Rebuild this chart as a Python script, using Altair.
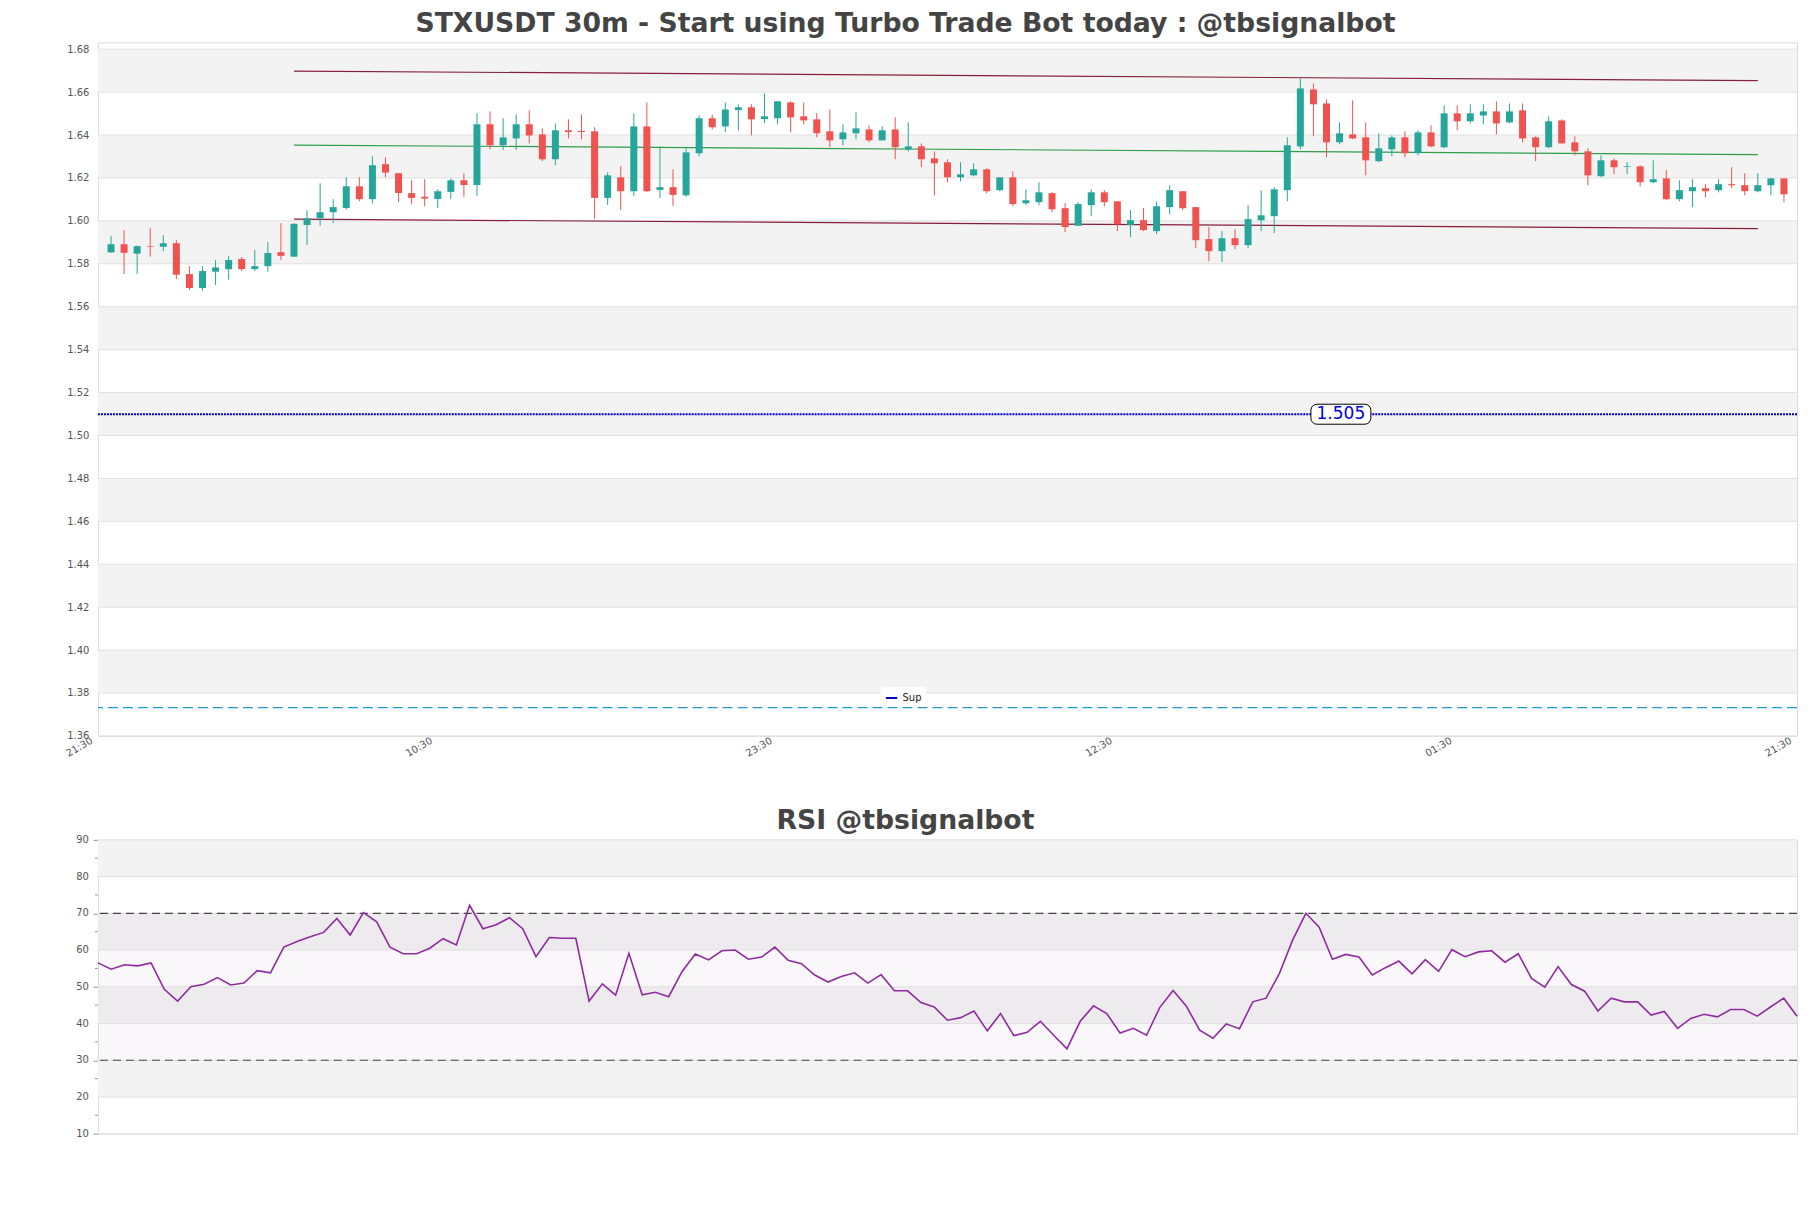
import json
import altair as alt
import pandas as pd

TITLE = "STXUSDT 30m - Start using Turbo Trade Bot today : @tbsignalbot"
RSI_TITLE = "RSI @tbsignalbot"

opens = [
    1.5853, 1.5891, 1.5847, 1.5882, 1.5879, 1.5896, 1.5752, 1.5687, 1.5763, 1.5775,
    1.5822, 1.5775, 1.5789, 1.5854, 1.5833, 1.5981, 1.6012, 1.6040, 1.6060, 1.6161,
    1.6101, 1.6264, 1.6222, 1.6129, 1.6112, 1.6102, 1.6135, 1.6189, 1.6167, 1.6450,
    1.6352, 1.6384, 1.6450, 1.6403, 1.6287, 1.6422, 1.6419, 1.6417, 1.6107, 1.6203,
    1.6138, 1.6440, 1.6144, 1.6157, 1.6119, 1.6315, 1.6478, 1.6440, 1.6516, 1.6529,
    1.6474, 1.6478, 1.6552, 1.6487, 1.6473, 1.6417, 1.6380, 1.6408, 1.6426, 1.6375,
    1.6426, 1.6333, 1.6347, 1.6291, 1.6273, 1.6203, 1.6212, 1.6240, 1.6143, 1.6203,
    1.6082, 1.6087, 1.6129, 1.6059, 1.5977, 1.6073, 1.6133, 1.6091, 1.5981, 1.6003,
    1.5952, 1.6064, 1.6138, 1.6064, 1.5915, 1.5859, 1.5919, 1.5887, 1.6003, 1.6022,
    1.6143, 1.6347, 1.6612, 1.6547, 1.6366, 1.6403, 1.6389, 1.6278, 1.6333, 1.6389,
    1.6315, 1.6412, 1.6343, 1.6501, 1.6464, 1.6491, 1.6510, 1.6459, 1.6515, 1.6389,
    1.6343, 1.6468, 1.6366, 1.6324, 1.6208, 1.6282, 1.6251, 1.6254, 1.6180, 1.6198,
    1.6101, 1.6138, 1.6152, 1.6143, 1.6171, 1.6166, 1.6138, 1.6166, 1.6198,
]
closes = [
    1.5891, 1.5851, 1.5882, 1.5879, 1.5896, 1.5749, 1.5687, 1.5766, 1.5783, 1.5817,
    1.5775, 1.5789, 1.5850, 1.5837, 1.5986, 1.6012, 1.6040, 1.6064, 1.6161, 1.6101,
    1.6259, 1.6225, 1.6130, 1.6107, 1.6104, 1.6138, 1.6189, 1.6167, 1.6450, 1.6352,
    1.6389, 1.6450, 1.6398, 1.6287, 1.6422, 1.6414, 1.6414, 1.6107, 1.6212, 1.6138,
    1.6440, 1.6138, 1.6157, 1.6121, 1.6319, 1.6478, 1.6436, 1.6519, 1.6529, 1.6473,
    1.6487, 1.6557, 1.6482, 1.6468, 1.6408, 1.6375, 1.6412, 1.6431, 1.6375, 1.6422,
    1.6343, 1.6347, 1.6287, 1.6268, 1.6203, 1.6217, 1.6240, 1.6138, 1.6203, 1.6078,
    1.6096, 1.6133, 1.6054, 1.5971, 1.6078, 1.6133, 1.6087, 1.5984, 1.6003, 1.5957,
    1.6068, 1.6143, 1.6059, 1.5910, 1.5859, 1.5919, 1.5887, 1.6008, 1.6026, 1.6147,
    1.6352, 1.6617, 1.6543, 1.6366, 1.6408, 1.6384, 1.6282, 1.6338, 1.6389, 1.6315,
    1.6412, 1.6347, 1.6501, 1.6464, 1.6501, 1.6510, 1.6454, 1.6510, 1.6384, 1.6343,
    1.6464, 1.6361, 1.6324, 1.6212, 1.6282, 1.6250, 1.6254, 1.6180, 1.6194, 1.6101,
    1.6143, 1.6157, 1.6138, 1.6171, 1.6166, 1.6138, 1.6166, 1.6198, 1.6124,
]
highs = [
    1.5930, 1.5957, 1.5885, 1.5966, 1.5933, 1.5910, 1.5789, 1.5789, 1.5817, 1.5836,
    1.5831, 1.5864, 1.5901, 1.5989, 1.5989, 1.6050, 1.6175, 1.6101, 1.6203, 1.6203,
    1.6301, 1.6296, 1.6222, 1.6189, 1.6194, 1.6147, 1.6198, 1.6222, 1.6501, 1.6510,
    1.6478, 1.6496, 1.6515, 1.6431, 1.6454, 1.6473, 1.6496, 1.6436, 1.6226, 1.6254,
    1.6501, 1.6552, 1.6347, 1.6240, 1.6338, 1.6491, 1.6495, 1.6552, 1.6543, 1.6543,
    1.6594, 1.6557, 1.6557, 1.6552, 1.6501, 1.6519, 1.6450, 1.6505, 1.6445, 1.6440,
    1.6482, 1.6459, 1.6361, 1.6324, 1.6287, 1.6273, 1.6268, 1.6245, 1.6203, 1.6231,
    1.6147, 1.6180, 1.6133, 1.6082, 1.6087, 1.6147, 1.6143, 1.6091, 1.6050, 1.6059,
    1.6091, 1.6166, 1.6138, 1.6064, 1.5971, 1.5952, 1.5961, 1.6073, 1.6143, 1.6157,
    1.6389, 1.6664, 1.6640, 1.6566, 1.6459, 1.6561, 1.6459, 1.6408, 1.6398, 1.6417,
    1.6422, 1.6445, 1.6538, 1.6538, 1.6543, 1.6543, 1.6557, 1.6547, 1.6547, 1.6394,
    1.6487, 1.6473, 1.6394, 1.6338, 1.6305, 1.6291, 1.6273, 1.6259, 1.6282, 1.6236,
    1.6189, 1.6194, 1.6171, 1.6194, 1.6250, 1.6222, 1.6222, 1.6198, 1.6198,
]
lows = [
    1.5850, 1.5752, 1.5752, 1.5833, 1.5859, 1.5729, 1.5678, 1.5674, 1.5701, 1.5726,
    1.5766, 1.5766, 1.5763, 1.5817, 1.5833, 1.5888, 1.5977, 1.5989, 1.6051, 1.6091,
    1.6082, 1.6203, 1.6087, 1.6078, 1.6068, 1.6060, 1.6102, 1.6112, 1.6116, 1.6333,
    1.6330, 1.6330, 1.6361, 1.6278, 1.6259, 1.6384, 1.6380, 1.6008, 1.6074, 1.6051,
    1.6116, 1.6135, 1.6107, 1.6070, 1.6112, 1.6301, 1.6426, 1.6414, 1.6422, 1.6398,
    1.6456, 1.6450, 1.6412, 1.6450, 1.6389, 1.6343, 1.6352, 1.6380, 1.6366, 1.6375,
    1.6287, 1.6324, 1.6250, 1.6119, 1.6180, 1.6184, 1.6208, 1.6129, 1.6138, 1.6068,
    1.6073, 1.6073, 1.6040, 1.5947, 1.5977, 1.6022, 1.6068, 1.5952, 1.5924, 1.5952,
    1.5938, 1.6031, 1.6050, 1.5873, 1.5812, 1.5808, 1.5868, 1.5873, 1.5952, 1.5943,
    1.6091, 1.6333, 1.6394, 1.6296, 1.6357, 1.6380, 1.6212, 1.6273, 1.6301, 1.6296,
    1.6305, 1.6343, 1.6338, 1.6422, 1.6454, 1.6450, 1.6403, 1.6454, 1.6366, 1.6278,
    1.6338, 1.6361, 1.6305, 1.6166, 1.6203, 1.6217, 1.6217, 1.6161, 1.6175, 1.6096,
    1.6091, 1.6064, 1.6110, 1.6133, 1.6152, 1.6119, 1.6133, 1.6119, 1.6087,
]
rsi_values = [
    56.5, 54.8, 56.0, 55.7, 56.5, 49.3, 46.1, 50.0, 50.7, 52.5,
    50.5, 51.0, 54.4, 53.8, 60.8, 62.3, 63.6, 64.8, 68.6, 64.1,
    70.2, 67.7, 60.8, 59.0, 59.0, 60.5, 63.1, 61.4, 72.2, 65.8,
    66.9, 68.8, 65.8, 58.2, 63.4, 63.2, 63.2, 46.1, 50.8, 47.7,
    59.1, 47.8, 48.5, 47.3, 54.1, 58.9, 57.3, 59.8, 60.0, 57.5,
    58.1, 60.8, 57.2, 56.3, 53.2, 51.3, 52.8, 53.8, 51.0, 53.3,
    48.9, 48.9, 45.7, 44.5, 40.9, 41.6, 43.4, 38.0, 42.7, 36.7,
    37.6, 40.6, 36.8, 33.1, 40.6, 44.8, 42.7, 37.4, 38.7, 36.8,
    44.4, 49.0, 44.7, 38.2, 36.0, 39.9, 38.6, 45.9, 46.9, 53.6,
    62.7, 70.0, 66.2, 57.5, 58.8, 58.1, 53.2, 55.2, 57.0, 53.5,
    57.4, 54.2, 60.1, 58.2, 59.5, 59.8, 56.7, 59.0, 52.3, 49.9,
    55.5, 50.6, 48.8, 43.4, 46.9, 45.9, 45.9, 42.3, 43.3, 38.7,
    41.4, 42.5, 41.8, 43.8, 43.8, 42.0, 44.5, 46.9, 42.0,
]

x_tick_values = [-1, 25, 51, 77, 103, 129]
x_tick_labels = ["21:30", "10:30", "23:30", "12:30", "01:30", "21:30"]
price_ticks = [1.36, 1.38, 1.40, 1.42, 1.44, 1.46, 1.48, 1.50, 1.52, 1.54,
               1.56, 1.58, 1.60, 1.62, 1.64, 1.66, 1.68]
price_band_lo = [1.38, 1.42, 1.46, 1.50, 1.54, 1.58, 1.62, 1.66]
price_band_hi = [1.40, 1.44, 1.48, 1.52, 1.56, 1.60, 1.64, 1.68]

trend_names = ["res", "res", "mid", "mid", "sup", "sup"]
trend_x = [14, 126, 14, 126, 14, 126]
trend_p = [1.6698, 1.6653, 1.6353, 1.6309, 1.6008, 1.5964]

support_level = 1.5099
support_label = "1.505"
support_label_x = 94.1
support_name = "Sup"
lower_level = 1.3732

rsi_major_ticks = [10, 20, 30, 40, 50, 60, 70, 80, 90]
rsi_minor_ticks = [15, 25, 35, 45, 55, 65, 75, 85]
rsi_band_lo = [20, 40, 60, 80]
rsi_band_hi = [30, 50, 70, 90]
rsi_zone = [30, 70]
rsi_levels = [30, 70]

# ---------------- data frames ----------------
candles = pd.DataFrame({"i": list(range(len(opens))), "open": opens, "high": highs,
                        "low": lows, "close": closes})
candles["dir"] = ["up" if c >= o else "down" for o, c in zip(opens, closes)]
bands_df = pd.DataFrame({"lo": price_band_lo, "hi": price_band_hi})
grid_df = pd.DataFrame({"p": price_ticks})
trend_df = pd.DataFrame({"name": trend_names, "i": trend_x, "p": trend_p})
sup_df = pd.DataFrame({"name": [support_name], "level": [support_level],
                       "lx": [support_label_x], "label": [support_label]})
lower_df = pd.DataFrame({"level": [lower_level]})

rsi_df = pd.DataFrame({"i": list(range(len(rsi_values))), "rsi": rsi_values})
rsi_bands_df = pd.DataFrame({"lo": rsi_band_lo, "hi": rsi_band_hi})
rsi_zone_df = pd.DataFrame({"lo": [rsi_zone[0]], "hi": [rsi_zone[1]]})
rsi_grid_df = pd.DataFrame({"v": rsi_major_ticks})
rsi_minor_df = pd.DataFrame({"v": rsi_minor_ticks})
rsi_levels_df = pd.DataFrame({"v": rsi_levels})

# ---------------- styling ----------------
UP, DOWN = "#26a69a", "#ef5350"
BAND = "#f3f3f3"
GRID = "#e0e0e0"
W = 1700
H_MAIN = 694
H_RSI = 294
FONT = "DejaVu Sans"

x_main_scale = alt.Scale(domain=[-1, 129], nice=False, zero=False, padding=0)
y_main_scale = alt.Scale(domain=[1.36, 1.6832], nice=False, zero=False, padding=0)

label_expr = f"{json.dumps(x_tick_labels)}[indexof({json.dumps(x_tick_values)}, datum.value)]"
x_axis = alt.Axis(values=x_tick_values, labelExpr=label_expr, labelAngle=-30,
                  labelAlign="right", labelBaseline="bottom", labelFontSize=10,
                  labelColor="#555555", ticks=False, domain=False, grid=False,
                  title=None, labelPadding=8, labelOffset=-4, labelFlush=False,
                  labelOverlap=False, labelBound=False)
y_axis = alt.Axis(values=price_ticks, format=".2f", labelFontSize=10,
                  labelColor="#555555", ticks=False, labelPadding=9, domain=False,
                  grid=False, title=None, minExtent=40, maxExtent=40,
                  labelOverlap=False)

bands = alt.Chart(bands_df).mark_rect(color=BAND).encode(
    y=alt.Y("lo:Q", scale=y_main_scale, axis=y_axis), y2="hi:Q")
grid = alt.Chart(grid_df).mark_rule(color=GRID, strokeWidth=1).encode(y="p:Q")
trend = alt.Chart(trend_df).mark_line(strokeWidth=1.2).encode(
    x=alt.X("i:Q", scale=x_main_scale, axis=x_axis),
    y="p:Q",
    detail="name:N",
    stroke=alt.Stroke("name:N", scale=alt.Scale(domain=["res", "mid", "sup"],
                                                range=["#861f3c", "#2e9e49", "#861f3c"]),
                      legend=None))
dir_color = alt.Color("dir:N", scale=alt.Scale(domain=["up", "down"], range=[UP, DOWN]),
                      legend=None)
wicks = alt.Chart(candles).mark_rule(strokeWidth=1).encode(
    x="i:Q", y="low:Q", y2="high:Q", color=dir_color)
bodies = alt.Chart(candles).mark_bar(size=7).encode(
    x="i:Q", y="open:Q", y2="close:Q", color=dir_color)
support = alt.Chart(sup_df).mark_rule(strokeDash=[2, 1], strokeWidth=2).encode(
    y="level:Q",
    color=alt.Color("name:N", scale=alt.Scale(domain=[support_name], range=["#0000c0"]),
                    legend=alt.Legend(orient="none", legendX=783, legendY=645, title=None,
                                      symbolType="stroke", symbolStrokeWidth=2,
                                      symbolSize=130, symbolDash=[1, 0],
                                      labelFontSize=10, labelFont=FONT,
                                      labelColor="#222222",
                                      fillColor="rgba(255,255,255,0.85)",
                                      padding=4, cornerRadius=3)))
label_box = alt.Chart(sup_df).mark_rect(width=60, height=20, cornerRadius=6, fill="white",
                                         stroke="black", strokeWidth=1).encode(
    x="lx:Q", y="level:Q")
label_text = alt.Chart(sup_df).mark_text(fontSize=17, font=FONT, color="#0000dd").encode(
    x="lx:Q", y="level:Q", text="label:N")
lower = alt.Chart(lower_df).mark_rule(strokeDash=[10, 5], color="#2196d9",
                                      strokeWidth=1.3).encode(y="level:Q")

title_common = dict(fontSize=26.7, font=FONT, fontWeight="bold", color="#444444",
                    anchor="middle", frame="group", dx=-42)

main = alt.layer(bands, grid, trend, wicks, bodies, support, lower, label_box,
                 label_text).resolve_scale(color="independent").properties(
    width=W, height=H_MAIN, title=alt.TitleParams(TITLE, offset=5, **title_common))

# ---------------- RSI ----------------
x_rsi_scale = alt.Scale(domain=[0, 128], nice=False, zero=False, padding=0)
y_rsi_scale = alt.Scale(domain=[10, 90], nice=False, zero=False, padding=0)
rsi_axis = alt.Axis(values=rsi_major_ticks, tickSize=5, tickColor="#999999",
                    labels=False, domain=False, grid=False, title=None,
                    minExtent=40, maxExtent=40)

r_bands = alt.Chart(rsi_bands_df).mark_rect(color=BAND).encode(
    y=alt.Y("lo:Q", scale=y_rsi_scale, axis=rsi_axis), y2="hi:Q")
r_zone = alt.Chart(rsi_zone_df).mark_rect(color="#9b59b6", opacity=0.05).encode(
    y="lo:Q", y2="hi:Q")
r_grid = alt.Chart(rsi_grid_df).mark_rule(color=GRID, strokeWidth=1).encode(y="v:Q")
r_labels = alt.Chart(rsi_grid_df).mark_text(align="right", baseline="middle",
                                            fontSize=10, font=FONT,
                                            color="#555555").encode(
    y="v:Q", x=alt.value(-9), text="v:Q")
r_minor = alt.Chart(rsi_minor_df).mark_rule(color="#999999", strokeWidth=1).encode(
    y="v:Q", x=alt.value(-3), x2=alt.value(0))
r_levels = alt.Chart(rsi_levels_df).mark_rule(color="#444444", strokeDash=[8, 5],
                                              strokeWidth=1.2).encode(y="v:Q")
r_line = alt.Chart(rsi_df).mark_line(color="#8e2c9e", strokeWidth=1.6).encode(
    x=alt.X("i:Q", scale=x_rsi_scale, axis=None), y="rsi:Q")

rsi_chart = alt.layer(r_bands, r_zone, r_grid, r_labels, r_minor, r_levels,
                      r_line).properties(
    width=W, height=H_RSI, title=alt.TitleParams(RSI_TITLE, offset=0.5, **title_common))

chart = alt.vconcat(main, rsi_chart, spacing=48).properties(
    padding={"left": 57, "top": 9, "right": 10, "bottom": 10}
).configure_view(stroke="#dddddd").configure_axis(labelFont=FONT)

chart.save("out.html", embed_options={"renderer": "svg", "actions": False})
